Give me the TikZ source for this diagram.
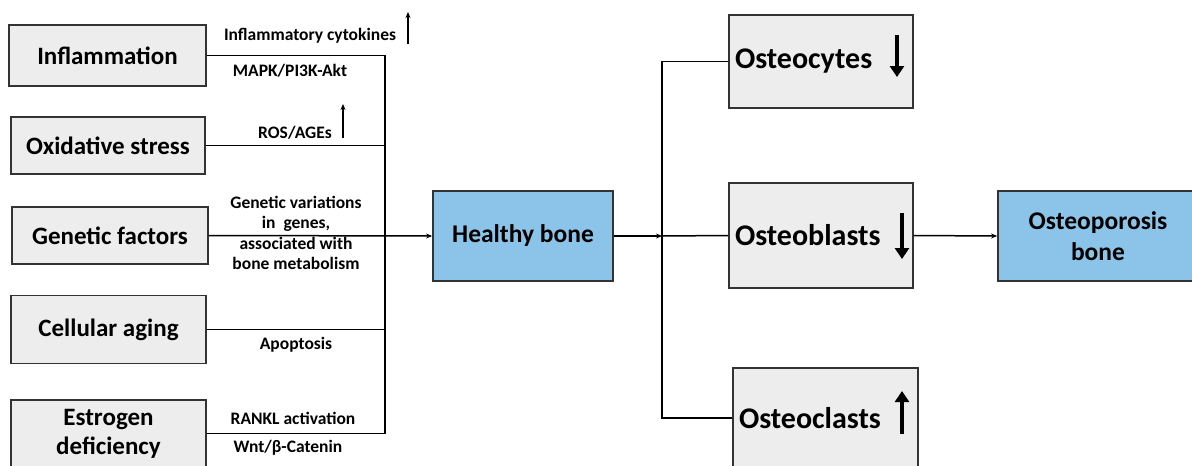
\documentclass[tikz,border=0pt]{standalone}
\usepackage{fontspec}
\setmainfont{Carlito}
\usetikzlibrary{arrows.meta}
\definecolor{boxgray}{HTML}{EDEDED}
\definecolor{boneblue}{HTML}{8BC4E8}
\definecolor{edgegray}{HTML}{333333}
\begin{document}
\begin{tikzpicture}[x=1pt,y=-1pt,
  cause/.style={draw=edgegray,line width=1.8pt,fill=boxgray,inner sep=0pt,align=center,
     font=\fontsize{25}{29}\selectfont\bfseries},
  cell/.style={draw=edgegray,line width=1.8pt,fill=boxgray,inner sep=0pt,align=center,
     font=\fontsize{30}{32}\selectfont\bfseries},
  bone/.style={draw=edgegray,line width=1.8pt,fill=boneblue,inner sep=0pt,align=center,
     font=\fontsize{25.5}{31}\selectfont\bfseries},
  lab/.style={inner sep=0pt,align=center,font=\fontsize{17.5}{20.5}\selectfont\bfseries},
  conn/.style={line width=1.5pt,black},
  tip/.style={-{Stealth[length=6pt,width=5pt]}},
  smallup/.style={line width=1.1pt,-{Stealth[length=6pt,width=5pt]}},
  bigarrow/.style={line width=4pt,-{Triangle[length=11pt,width=14pt]}}
]
\useasboundingbox (0,0) rectangle (1192,466);
\fill[white] (0,0) rectangle (1192,466);
% cause boxes
\node[cause,minimum width=197pt,minimum height=61pt] (infl) at (107.5,55.5) {Inflammation};
\node[cause,minimum width=194pt,minimum height=57pt] (oxid) at (108,145.5) {Oxidative stress};
\node[cause,minimum width=196pt,minimum height=57pt] (gen) at (110,235.5) {Genetic factors};
\node[cause,minimum width=195pt,minimum height=68pt] (cellag) at (108.5,329.5) {Cellular aging};
\node[cause,minimum width=195pt,minimum height=67pt] (estr) at (108.5,433.5) {Estrogen\\deficiency};
% bones
\node[bone,minimum width=180pt,minimum height=90pt] (healthy) at (523,236) {Healthy bone};
\node[bone,minimum width=200pt,minimum height=90pt] (osteo) at (1098,236) {Osteoporosis\\bone};
% cells
\node[cell,minimum width=184pt,minimum height=93pt,text width=174pt,align=left] (ocyte) at (821,61.5) {\hspace*{1pt}Osteocytes};
\node[cell,minimum width=184pt,minimum height=105pt,text width=174pt,align=left] (oblast) at (821,235.5) {\hspace*{1pt}Osteoblasts};
\node[cell,minimum width=185pt,minimum height=100pt,text width=175pt,align=left] (oclast) at (825.5,418) {\hspace*{1pt}Osteoclasts};
% junction
\coordinate (jt) at (385,55.5);
\coordinate (jb) at (385,433.5);
\draw[conn] (infl.east) -- (jt) -- (jb) -- (estr.east);
\draw[conn] (oxid.east) -- (oxid.east -| jt);
\draw[conn] (cellag.east) -- (cellag.east -| jt);
\draw[conn,tip] (gen.east) -- (healthy.west);
\coordinate (k) at (662,236);
\draw[conn,tip] (healthy.east) -- (k);
\draw[conn] (ocyte.west) -| (k) |- (oclast.west);
\draw[conn] (k) -- (oblast.west);
\draw[conn,tip] (oblast.east) -- (osteo.west);
% labels
\node[lab] (l1) at (310,36) {Inflammatory cytokines};
\node[lab] (l2) at (290,71) {MAPK/PI3K-Akt};
\node[lab] (l3) at (295,133) {ROS/AGEs};
\node[lab] (l4) at (296,233) {Genetic variations\\in\ \ genes,\\associated with\\bone metabolism};
\node[lab] (l5) at (296,345) {Apoptosis};
\node[lab] (l6) at (293,418) {RANKL activation};
\node[lab] (l7) at (288,448) {Wnt/β-Catenin};
% small up arrows
\coordinate (a1s) at (408,44); \coordinate (a1e) at (408,12);
\draw[smallup] (a1s) -- (a1e);
\coordinate (a2s) at (343,138); \coordinate (a2e) at (343,104);
\draw[smallup] (a2s) -- (a2e);
% big arrows
\coordinate (b1s) at (897,35); \coordinate (b1e) at (897,77);
\draw[bigarrow] (b1s) -- (b1e);
\coordinate (b2s) at (902,213); \coordinate (b2e) at (902,259);
\draw[bigarrow] (b2s) -- (b2e);
\coordinate (b3s) at (902,434); \coordinate (b3e) at (902,391);
\draw[bigarrow] (b3s) -- (b3e);
\end{tikzpicture}
\end{document}
